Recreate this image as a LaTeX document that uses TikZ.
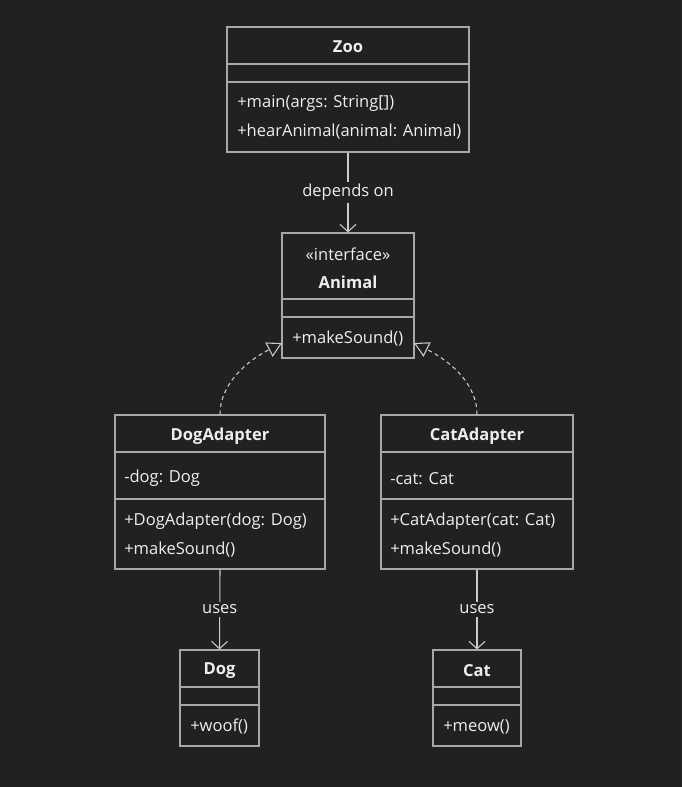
\documentclass[tikz,border=0pt]{standalone}
\usepackage{fontspec}
\setmainfont{Open Sans}
\usetikzlibrary{arrows.meta,calc}
\definecolor{bg}{HTML}{212121}
\definecolor{linegray}{HTML}{A8A8A8}
\definecolor{arrowgray}{HTML}{CCCCCC}
\definecolor{txt}{HTML}{EEEEEE}
\tikzset{
  umlbox/.style={draw=linegray, line width=0.9pt, fill=bg, inner sep=0pt},
  divider/.style={draw=linegray, line width=0.9pt},
  title/.style={text=txt, font=\fontsize{12.4}{14}\selectfont\bfseries, anchor=center, inner sep=0pt, yshift=-0.8pt},
  stereo/.style={text=txt, font=\fontsize{12.4}{14}\selectfont, anchor=center, inner sep=0pt, yshift=-0.8pt},
  member/.style={text=txt, font=\fontsize{12.4}{14}\selectfont, anchor=west, inner sep=0pt, yshift=-1.2pt},
  conn/.style={draw=arrowgray, line width=0.8pt},
  dep/.style={conn, -{Straight Barb[length=5.5pt,width=12pt,line width=0.8pt]}},
  real/.style={conn, dashed, dash pattern=on 3pt off 2.5pt, -{Triangle[open,length=11pt,width=12pt,fill=bg,line width=0.8pt]}},
  elabel/.style={fill=bg, text=txt, font=\fontsize{12.4}{14}\selectfont, inner sep=2pt},
}
\newcommand\umlbox[5]{\node[umlbox, minimum width={(#4-#2)*0.75pt}, minimum height={(#5-#3)*0.75pt}] (#1) at ({(#2+#4)/2},{(#3+#5)/2}) {};}
\begin{document}
\begin{tikzpicture}[x=0.75pt,y=-0.75pt]
\fill[bg] (0,0) rectangle (682,787);
\useasboundingbox (0,0) rectangle (682,787);

% Zoo
\umlbox{zoo}{227}{27}{469}{152}
\draw[divider] (zoo.west |- 0,64) -- (zoo.east |- 0,64);
\draw[divider] (zoo.west |- 0,82) -- (zoo.east |- 0,82);
\node[title] (zoot) at (348,46) {Zoo};
\node[member] (zoom1) at (237,102) {+main(args: String[])};
\node[member] (zoom2) at (237,130) {+hearAnimal(animal: Animal)};

% Animal
\umlbox{animal}{282}{233}{414}{358}
\draw[divider] (animal.west |- 0,299) -- (animal.east |- 0,299);
\draw[divider] (animal.west |- 0,317) -- (animal.east |- 0,317);
\node[stereo] (anist) at (348,253) {«interface»};
\node[title] (anit) at (348,281) {Animal};
\node[member] (anim1) at (292,337) {+makeSound()};

% DogAdapter
\umlbox{dogad}{115}{415}{325}{569}
\draw[divider] (dogad.west |- 0,452) -- (dogad.east |- 0,452);
\draw[divider] (dogad.west |- 0,499) -- (dogad.east |- 0,499);
\node[title] (dogadt) at (220,435) {DogAdapter};
\node[member] (dogada1) at (124,477) {-dog: Dog};
\node[member] (dogadm1) at (124,520) {+DogAdapter(dog: Dog)};
\node[member] (dogadm2) at (124,548) {+makeSound()};

% CatAdapter
\umlbox{catad}{381}{415}{573}{569}
\draw[divider] (catad.west |- 0,452) -- (catad.east |- 0,452);
\draw[divider] (catad.west |- 0,499) -- (catad.east |- 0,499);
\node[title] (catadt) at (477,435) {CatAdapter};
\node[member] (catada1) at (390,477) {-cat: Cat};
\node[member] (catadm1) at (390,520) {+CatAdapter(cat: Cat)};
\node[member] (catadm2) at (390,548) {+makeSound()};

% Dog
\umlbox{dog}{180}{650}{259}{746}
\draw[divider] (dog.west |- 0,687) -- (dog.east |- 0,687);
\draw[divider] (dog.west |- 0,705) -- (dog.east |- 0,705);
\node[title] (dogt) at (219.5,670) {Dog};
\node[member] (dogm1) at (190,725) {+woof()};

% Cat
\umlbox{cat}{433}{650}{521}{746}
\draw[divider] (cat.west |- 0,687) -- (cat.east |- 0,687);
\draw[divider] (cat.west |- 0,705) -- (cat.east |- 0,705);
\node[title] (catt) at (477,670) {Cat};
\node[member] (catm1) at (443,725) {+meow()};

% connectors
\draw[dep] (zoo.south) -- node[elabel] (l1) {depends on} (animal.north);
\coordinate (ail) at (282,343);
\coordinate (air) at (414,343);
\draw[real] (dogad.north) .. controls (220,385) and (245,362) .. (ail);
\draw[real] (catad.north) .. controls (477,385) and (452,362) .. (air);
\draw[dep] (dogad.south) -- node[elabel] (l2) {uses} (dog.north);
\draw[dep] (catad.south) -- node[elabel] (l3) {uses} (cat.north);
\end{tikzpicture}
\end{document}
